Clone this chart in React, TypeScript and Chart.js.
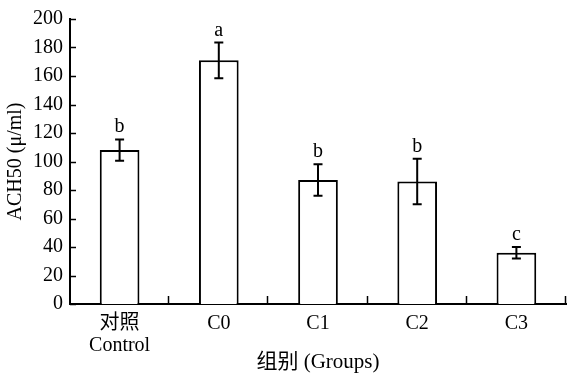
import React, { useEffect, useRef } from "react";
import { Chart, registerables } from "chart.js";

Chart.register(...registerables);

const categories: (string | string[])[] = [["对照", "Control"], "C0", "C1", "C2", "C3"];
const means = [108, 171, 87, 86, 36];
const errors = [7.5, 12.5, 11, 16, 4];
const letters = ["b", "a", "b", "b", "c"];
const yTicksMax = 200;
const yStep = 20;

const FONT = "'Liberation Serif', 'Times New Roman', 'Noto Sans CJK SC', serif";

const errorPlugin = {
  id: "errorBarsAndTicks",
  afterDatasetsDraw(chart: any) {
    const ctx = chart.ctx;
    const y = chart.scales.y;
    const x = chart.scales.x;
    const meta = chart.getDatasetMeta(0);
    ctx.save();
    ctx.strokeStyle = "#000";
    ctx.fillStyle = "#000";
    ctx.lineWidth = 2;
    meta.data.forEach((bar: any, i: number) => {
      const cx = bar.x;
      const top = y.getPixelForValue(means[i] + errors[i]);
      const bot = y.getPixelForValue(means[i] - errors[i]);
      ctx.beginPath();
      ctx.moveTo(cx, top);
      ctx.lineTo(cx, bot);
      ctx.moveTo(cx - 4.5, top);
      ctx.lineTo(cx + 4.5, top);
      ctx.moveTo(cx - 4.5, bot);
      ctx.lineTo(cx + 4.5, bot);
      ctx.stroke();
      ctx.font = `20px ${FONT}`;
      ctx.textAlign = "center";
      ctx.textBaseline = "alphabetic";
      ctx.fillText(letters[i], cx, top - 7);
    });
    // inward ticks on y axis
    const left = chart.chartArea.left;
    ctx.lineWidth = 1.5;
    for (let v = 0; v <= yTicksMax; v += yStep) {
      const py = Math.round(y.getPixelForValue(v)) + 0.5;
      ctx.beginPath();
      ctx.moveTo(left, py);
      ctx.lineTo(left + 6, py);
      ctx.stroke();
    }
    // inward ticks on x axis at category boundaries
    const bottom = chart.chartArea.bottom;
    const n = categories.length;
    for (let i = 1; i <= n; i++) {
      const px = Math.round(x.getPixelForValue(i - 0.5)) - 0.5;
      ctx.beginPath();
      ctx.moveTo(px, bottom);
      ctx.lineTo(px, bottom - 8);
      ctx.stroke();
    }
    ctx.restore();
  },
};

export default function App() {
  const ref = useRef<HTMLCanvasElement | null>(null);
  useEffect(() => {
    if (!ref.current) return;
    const chart = new Chart(ref.current, {
      type: "bar",
      data: {
        labels: categories,
        datasets: [
          {
            data: means,
            backgroundColor: "#ffffff",
            borderColor: "#000000",
            borderWidth: 2,
            borderSkipped: "bottom",
            categoryPercentage: 1,
            barPercentage: 0.4,
          },
        ],
      },
      options: {
        responsive: false,
        animation: false,
        layout: { padding: { top: 15, right: 1, left: 0, bottom: 0 } },
        plugins: { legend: { display: false }, tooltip: { enabled: false } },
        scales: {
          x: {
            grid: { display: false },
            border: { display: true, color: "#000", width: 2 },
            ticks: {
              color: "#000",
              font: { family: FONT, size: 20, lineHeight: 1.1 },
              padding: 1,
              maxRotation: 0,
              autoSkip: false,
            },
            title: {
              display: true,
              text: "组别 (Groups)",
              color: "#000",
              font: { family: FONT, size: 21 },
              padding: { top: 0, bottom: 7 },
            },
            afterFit: (s: any) => {
              s.height = 78;
            },
          },
          y: {
            min: 0,
            max: yTicksMax,
            grid: { display: false, drawTicks: false },
            border: { display: true, color: "#000", width: 2 },
            ticks: {
              stepSize: yStep,
              color: "#000",
              font: { family: FONT, size: 20 },
              padding: 7,
            },
            title: {
              display: true,
              text: "ACH50 (μ/ml)",
              color: "#000",
              font: { family: FONT, size: 20 },
              padding: { top: 4, bottom: 0 },
            },
            afterFit: (s: any) => {
              s.width = 70;
            },
          },
        },
      },
      plugins: [errorPlugin],
    });
    return () => chart.destroy();
  }, []);
  return (
    <div style={{ position: "absolute", left: 0, top: 0, width: 567, height: 382, background: "#fff" }}>
      <canvas ref={ref} width={567} height={382} />
    </div>
  );
}
